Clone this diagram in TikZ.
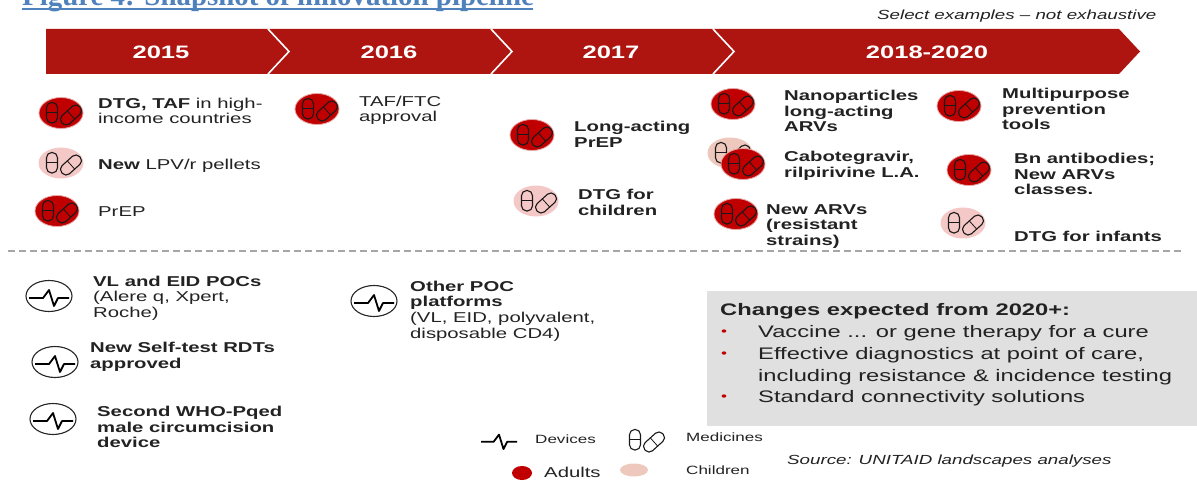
\documentclass[tikz,border=0pt]{standalone}
\usepackage{fontspec}
\setmainfont[FakeStretch=1.42]{Liberation Sans}
\newfontfamily\titlefont{Liberation Serif}
\definecolor{bandred}{HTML}{AE1410}
\definecolor{adultred}{HTML}{C00000}
\definecolor{childpink}{HTML}{F4C8C6}
\definecolor{childtan}{HTML}{EEC8BC}
\definecolor{boxgray}{HTML}{E0E0E0}
\definecolor{titleblue}{HTML}{4F81BD}
\definecolor{inktext}{HTML}{222222}
\tikzset{
  x=1pt,y=-1pt,
  lbl/.style={anchor=west,inner sep=0pt,align=left,text=inktext,font=\fontsize{14.3}{15.6}\selectfont},
  smalllbl/.style={lbl,font=\fontsize{12}{13}\selectfont},
  notelbl/.style={lbl,font=\fontsize{13.2}{15}\selectfont\itshape},
  boxlbl/.style={lbl,font=\fontsize{16.7}{21.5}\selectfont},
  bulletlbl/.style={lbl,text=adultred,font=\fontsize{12}{14}\selectfont},
  yearlbl/.style={inner sep=0pt,text=white,font=\fontsize{18}{20}\selectfont\bfseries},
  adult/.style={ellipse,draw=adultred!35!white,line width=.8pt,fill=adultred,minimum width=44pt,minimum height=31pt,inner sep=0pt},
  child/.style={ellipse,fill=childpink,minimum width=45pt,minimum height=31pt,inner sep=0pt},
  devring/.style={ellipse,draw=black!85,line width=1.1pt,fill=white,minimum width=46pt,minimum height=31pt,inner sep=0pt},
  pills/.pic={
    \draw[line width=1.1pt,rounded corners=5.2pt,black!90] (-14.5,-10.5) rectangle (-3.5,10);
    \draw[line width=.8pt,black!90] (-14.5,-1) -- (-3.5,-1);
    \begin{scope}[shift={(10,2)},rotate=42]
      \draw[line width=1.1pt,rounded corners=5pt,black!90] (-12,-5.5) rectangle (12,5.5);
      \draw[line width=.8pt,black!90] (0,-5.5) -- (0,5.5);
    \end{scope}
  },
  pulse/.pic={
    \draw[line width=1.8pt,line join=round,black] (-20,2) -- (-6,2) -- (0,-6) -- (5,10) -- (9,2) -- (20,2);
  }
}
\newcommand{\adultpill}[3]{\node[adult] (#1) at (#2,#3) {}; \pic at (#1.center) {pills};}
\newcommand{\childpill}[3]{\node[child] (#1) at (#2,#3) {}; \pic at (#1.center) {pills};}
\newcommand{\device}[3]{\node[devring] (#1) at (#2,#3) {}; \pic at (#1.center) {pulse};}
\usetikzlibrary{shapes.geometric}
\begin{document}
\begin{tikzpicture}
\useasboundingbox (0,0) rectangle (1197,481);
\clip (0,0) rectangle (1197,481);
% title
\node[anchor=base west,inner sep=0pt,text=titleblue,font=\fontsize{28.9}{30}\selectfont\titlefont\bfseries] (figtitle) at (22,5.5) {Figure 4: Snapshot of innovation pipeline};
\coordinate (ulA) at (22,9); \coordinate (ulB) at (533,9);
\draw[titleblue,line width=1.8pt] (ulA) -- (ulB);
\node[notelbl] (selectnote) at (877,16) {Select examples -- not exhaustive};
% band
\fill[bandred] (46,29) -- (1119,29) -- (1140,51.5) -- (1119,74) -- (46,74) -- cycle;
\coordinate (c1a) at (268,29); \coordinate (c1b) at (289,51.5); \coordinate (c1c) at (268,74);
\coordinate (c2a) at (491,29); \coordinate (c2b) at (512,51.5); \coordinate (c2c) at (491,74);
\coordinate (c3a) at (713,29); \coordinate (c3b) at (734,51.5); \coordinate (c3c) at (713,74);
\draw[white,line width=1.6pt] (c1a) -- (c1b) -- (c1c);
\draw[white,line width=1.6pt] (c2a) -- (c2b) -- (c2c);
\draw[white,line width=1.6pt] (c3a) -- (c3b) -- (c3c);
\node[yearlbl] (y15) at (161,52) {2015};
\node[yearlbl] (y16) at (389,52) {2016};
\node[yearlbl] (y17) at (611,52) {2017};
\node[yearlbl] (y18) at (927,52) {2018-2020};
% icons upper
\adultpill{a1}{61}{113}
\childpill{a2}{61}{163}
\adultpill{a3}{57}{211}
\adultpill{b1}{317}{109}
\adultpill{c1}{532}{135}
\childpill{c2}{536}{201}
\adultpill{d1}{733}{104}
\node[child,fill=childtan] (d2back) at (730,153) {}; \pic at (d2back.center) {pills};
\adultpill{d2}{743}{164}
\adultpill{d3}{736}{214}
\adultpill{e1}{959}{106}
\adultpill{e2}{969}{170}
\childpill{e3}{963}{223}
% labels upper
\node[lbl] (ta1) at (98,111) {\textbf{DTG, TAF} in high-\\income countries};
\node[lbl] (ta2) at (98,165.5) {\textbf{New} LPV/r pellets};
\node[lbl] (ta3) at (98,212) {PrEP};
\node[lbl] (tb1) at (359,110.5) {TAF/FTC\\approval};
\node[lbl] (tc1) at (574,134.5) {\textbf{Long-acting}\\\textbf{PrEP}};
\node[lbl] (tc2) at (578,202.5) {\textbf{DTG for}\\\textbf{children}};
\node[lbl] (td1) at (784,111) {\textbf{Nanoparticles}\\\textbf{long-acting}\\\textbf{ARVs}};
\node[lbl] (td2) at (784,166) {\textbf{Cabotegravir,}\\\textbf{rilpirivine L.A.}};
\node[lbl] (td3) at (766,226.5) {\textbf{New ARVs}\\\textbf{(resistant}\\\textbf{strains)}};
\node[lbl] (te1) at (1002,109) {\textbf{Multipurpose}\\\textbf{prevention}\\\textbf{tools}};
\node[lbl] (te2) at (1014,174) {\textbf{Bn antibodies;}\\\textbf{New ARVs}\\\textbf{classes.}};
\node[lbl] (te3) at (1014,236.5) {\textbf{DTG for infants}};
% divider
\coordinate (divA) at (8,251); \coordinate (divB) at (1183,251);
\draw[black!35,line width=1.2pt,dash pattern=on 7pt off 4pt] (divA) -- (divB);
% devices
\device{f1}{49}{296}
\device{f2}{55}{362}
\device{f3}{53}{419}
\device{g1}{374}{301}
\node[lbl] (tf1) at (93,298) {\textbf{VL and EID POCs}\\(Alere q, Xpert,\\Roche)};
\node[lbl] (tf2) at (90,357) {\textbf{New Self-test RDTs}\\\textbf{approved}};
\node[lbl] (tf3) at (97,427) {\textbf{Second WHO-Pqed}\\\textbf{male circumcision}\\\textbf{device}};
\node[lbl] (tg1) at (410,311) {\textbf{Other POC}\\\textbf{platforms}\\(VL, EID, polyvalent,\\disposable CD4)};
% grey box
\fill[boxgray] (707,291) rectangle (1197,426);
\node[boxlbl] (bx0) at (720,311.5) {\textbf{Changes expected from 2020+:}};
\node[bulletlbl] (bb1) at (721,333) {\textbullet};
\node[bulletlbl] (bb2) at (721,355) {\textbullet};
\node[bulletlbl] (bb3) at (721,398) {\textbullet};
\node[boxlbl] (bx1) at (758,333) {Vaccine ... or gene therapy for a cure};
\node[boxlbl] (bx2) at (758,366) {Effective diagnostics at point of care,\\including resistance \& incidence testing};
\node[boxlbl] (bx3) at (758,398.5) {Standard connectivity solutions};
% legend
\coordinate (lgp) at (499,440); \pic[scale=.9] at (lgp) {pulse};
\node[smalllbl] (ld) at (535,439) {Devices};
\coordinate (lgm) at (644,440); \pic at (lgm) {pills};
\node[smalllbl] (lm) at (686,437) {Medicines};
\node[ellipse,fill=adultred,minimum width=20pt,minimum height=14pt,inner sep=0pt] (la) at (522,473) {};
\node[lbl] (lat) at (544,472) {Adults};
\node[ellipse,fill=childtan,minimum width=28pt,minimum height=13pt,inner sep=0pt] (lc) at (634,470) {};
\node[smalllbl] (lct) at (686,470) {Children};
\node[notelbl] (src) at (787,461) {Source: UNITAID landscapes analyses};
\end{tikzpicture}
\end{document}
